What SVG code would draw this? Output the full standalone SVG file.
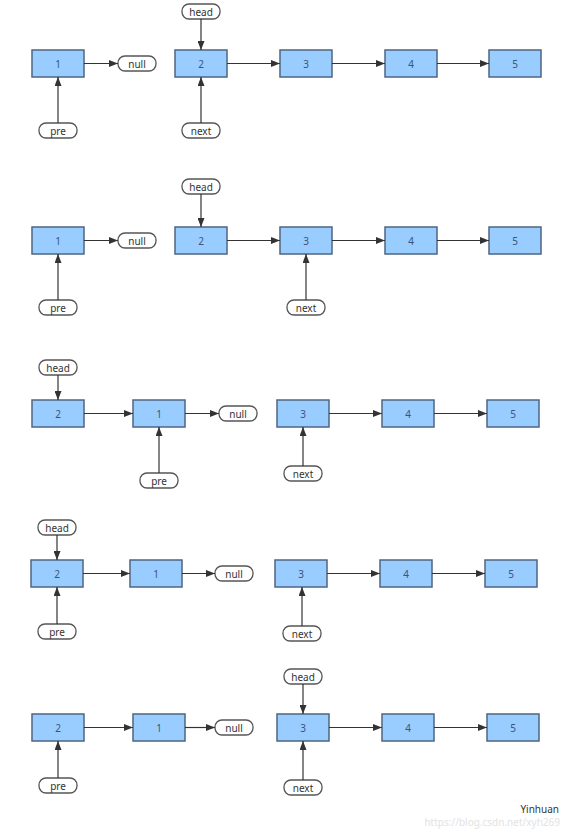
<svg xmlns="http://www.w3.org/2000/svg" width="588" height="836" viewBox="0 0 588 836">
<defs>
<marker id="ah" markerWidth="9" markerHeight="7" refX="9" refY="3.5" orient="auto" markerUnits="userSpaceOnUse">
<path d="M0,0 L9,3.5 L0,7 Z" fill="#333"/>
</marker>
<style>
.n rect{fill:#99ccff;stroke:#4f6680;stroke-width:1.5}
.n text{fill:#3a5577;font-family:"Noto Sans","DejaVu Sans",sans-serif;font-size:10px;text-anchor:middle;dominant-baseline:central}
.p rect{fill:#fff;stroke:#555;stroke-width:1.3}
.p text{fill:#333;font-family:"Noto Sans","DejaVu Sans",sans-serif;font-size:10px;text-anchor:middle;dominant-baseline:central}
.c line{stroke:#333;stroke-width:1.2;marker-end:url(#ah)}
.w{font-family:"Noto Sans","DejaVu Sans",sans-serif}
</style>
</defs>
<rect width="588" height="836" fill="#fff"/>

<!-- Row 1 -->
<g id="r1n1" class="n"><rect x="32" y="50" width="52" height="27"/><text x="58" y="63.5">1</text></g>
<g id="r1n2" class="n"><rect x="175" y="50" width="52" height="27"/><text x="201" y="63.5">2</text></g>
<g id="r1n3" class="n"><rect x="280" y="50" width="52" height="27"/><text x="306" y="63.5">3</text></g>
<g id="r1n4" class="n"><rect x="385" y="50" width="52" height="27"/><text x="411" y="63.5">4</text></g>
<g id="r1n5" class="n"><rect x="489" y="50" width="52" height="27"/><text x="515" y="63.5">5</text></g>
<g id="r1null" class="p"><rect x="118" y="56" width="38" height="15" rx="7"/><text x="137" y="63.5">null</text></g>
<g id="r1head" class="p"><rect x="182" y="4" width="38" height="15" rx="7"/><text x="201" y="11.5">head</text></g>
<g id="r1pre" class="p"><rect x="39" y="123" width="38" height="15" rx="7"/><text x="58" y="130.5">pre</text></g>
<g id="r1next" class="p"><rect x="182" y="123" width="38" height="15" rx="7"/><text x="201" y="130.5">next</text></g>

<!-- Row 2 -->
<g id="r2n1" class="n"><rect x="32" y="227" width="52" height="27"/><text x="58" y="240.5">1</text></g>
<g id="r2n2" class="n"><rect x="175" y="227" width="52" height="27"/><text x="201" y="240.5">2</text></g>
<g id="r2n3" class="n"><rect x="280" y="227" width="52" height="27"/><text x="306" y="240.5">3</text></g>
<g id="r2n4" class="n"><rect x="385" y="227" width="52" height="27"/><text x="411" y="240.5">4</text></g>
<g id="r2n5" class="n"><rect x="489" y="227" width="52" height="27"/><text x="515" y="240.5">5</text></g>
<g id="r2null" class="p"><rect x="118" y="233" width="38" height="15" rx="7"/><text x="137" y="240.5">null</text></g>
<g id="r2head" class="p"><rect x="182" y="179" width="38" height="15" rx="7"/><text x="201" y="186.5">head</text></g>
<g id="r2pre" class="p"><rect x="39" y="300" width="38" height="15" rx="7"/><text x="58" y="307.5">pre</text></g>
<g id="r2next" class="p"><rect x="287" y="300" width="38" height="15" rx="7"/><text x="306" y="307.5">next</text></g>

<!-- Row 3 -->
<g id="r3n2" class="n"><rect x="32" y="400" width="52" height="27"/><text x="58" y="413.5">2</text></g>
<g id="r3n1" class="n"><rect x="133" y="400" width="52" height="27"/><text x="159" y="413.5">1</text></g>
<g id="r3n3" class="n"><rect x="277" y="400" width="52" height="27"/><text x="303" y="413.5">3</text></g>
<g id="r3n4" class="n"><rect x="382" y="400" width="52" height="27"/><text x="408" y="413.5">4</text></g>
<g id="r3n5" class="n"><rect x="487" y="400" width="52" height="27"/><text x="513" y="413.5">5</text></g>
<g id="r3null" class="p"><rect x="219" y="406" width="38" height="15" rx="7"/><text x="238" y="413.5">null</text></g>
<g id="r3head" class="p"><rect x="39" y="360" width="38" height="15" rx="7"/><text x="58" y="367.5">head</text></g>
<g id="r3pre" class="p"><rect x="140" y="473" width="38" height="15" rx="7"/><text x="159" y="480.5">pre</text></g>
<g id="r3next" class="p"><rect x="284" y="466" width="38" height="15" rx="7"/><text x="303" y="473.5">next</text></g>

<!-- Row 4 -->
<g id="r4n2" class="n"><rect x="31" y="560" width="52" height="27"/><text x="57" y="573.5">2</text></g>
<g id="r4n1" class="n"><rect x="130" y="560" width="52" height="27"/><text x="156" y="573.5">1</text></g>
<g id="r4n3" class="n"><rect x="275" y="560" width="52" height="27"/><text x="301" y="573.5">3</text></g>
<g id="r4n4" class="n"><rect x="380" y="560" width="52" height="27"/><text x="406" y="573.5">4</text></g>
<g id="r4n5" class="n"><rect x="485" y="560" width="52" height="27"/><text x="511" y="573.5">5</text></g>
<g id="r4null" class="p"><rect x="215" y="566" width="38" height="15" rx="7"/><text x="234" y="573.5">null</text></g>
<g id="r4head" class="p"><rect x="38" y="520" width="38" height="15" rx="7"/><text x="57" y="527.5">head</text></g>
<g id="r4pre" class="p"><rect x="38" y="624" width="38" height="15" rx="7"/><text x="57" y="631.5">pre</text></g>
<g id="r4next" class="p"><rect x="283" y="626" width="38" height="15" rx="7"/><text x="302" y="633.5">next</text></g>

<!-- Row 5 -->
<g id="r5n2" class="n"><rect x="32" y="714" width="52" height="27"/><text x="58" y="727.5">2</text></g>
<g id="r5n1" class="n"><rect x="133" y="714" width="52" height="27"/><text x="159" y="727.5">1</text></g>
<g id="r5n3" class="n"><rect x="277" y="714" width="52" height="27"/><text x="303" y="727.5">3</text></g>
<g id="r5n4" class="n"><rect x="382" y="714" width="52" height="27"/><text x="408" y="727.5">4</text></g>
<g id="r5n5" class="n"><rect x="487" y="714" width="52" height="27"/><text x="513" y="727.5">5</text></g>
<g id="r5null" class="p"><rect x="215" y="720" width="38" height="15" rx="7"/><text x="234" y="727.5">null</text></g>
<g id="r5head" class="p"><rect x="284" y="669" width="38" height="15" rx="7"/><text x="303" y="676.5">head</text></g>
<g id="r5pre" class="p"><rect x="39" y="778" width="38" height="15" rx="7"/><text x="58" y="785.5">pre</text></g>
<g id="r5next" class="p"><rect x="284" y="780" width="38" height="15" rx="7"/><text x="303" y="787.5">next</text></g>

<!-- Connectors -->
<g id="connectors" class="c">
<!-- row 1 -->
<line x1="84" y1="63.5" x2="118" y2="63.5"/>
<line x1="227" y1="63.5" x2="280" y2="63.5"/>
<line x1="332" y1="63.5" x2="385" y2="63.5"/>
<line x1="437" y1="63.5" x2="489" y2="63.5"/>
<line x1="201" y1="19" x2="201" y2="50"/>
<line x1="58" y1="123" x2="58" y2="77"/>
<line x1="201" y1="123" x2="201" y2="77"/>
<!-- row 2 -->
<line x1="84" y1="240.5" x2="118" y2="240.5"/>
<line x1="227" y1="240.5" x2="280" y2="240.5"/>
<line x1="332" y1="240.5" x2="385" y2="240.5"/>
<line x1="437" y1="240.5" x2="489" y2="240.5"/>
<line x1="201" y1="194" x2="201" y2="227"/>
<line x1="58" y1="300" x2="58" y2="254"/>
<line x1="306" y1="300" x2="306" y2="254"/>
<!-- row 3 -->
<line x1="84" y1="413.5" x2="133" y2="413.5"/>
<line x1="185" y1="413.5" x2="219" y2="413.5"/>
<line x1="329" y1="413.5" x2="382" y2="413.5"/>
<line x1="434" y1="413.5" x2="487" y2="413.5"/>
<line x1="58" y1="375" x2="58" y2="400"/>
<line x1="159" y1="473" x2="159" y2="427"/>
<line x1="303" y1="466" x2="303" y2="427"/>
<!-- row 4 -->
<line x1="83" y1="573.5" x2="130" y2="573.5"/>
<line x1="182" y1="573.5" x2="215" y2="573.5"/>
<line x1="327" y1="573.5" x2="380" y2="573.5"/>
<line x1="432" y1="573.5" x2="485" y2="573.5"/>
<line x1="57" y1="535" x2="57" y2="560"/>
<line x1="57" y1="624" x2="57" y2="587"/>
<line x1="302" y1="626" x2="302" y2="587"/>
<!-- row 5 -->
<line x1="84" y1="727.5" x2="133" y2="727.5"/>
<line x1="185" y1="727.5" x2="215" y2="727.5"/>
<line x1="329" y1="727.5" x2="382" y2="727.5"/>
<line x1="434" y1="727.5" x2="487" y2="727.5"/>
<line x1="303" y1="684" x2="303" y2="714"/>
<line x1="58" y1="778" x2="58" y2="741"/>
<line x1="303" y1="780" x2="303" y2="741"/>
</g>

<text class="w" x="559" y="813" font-size="10" fill="#333" text-anchor="end">Yinhuan</text>
<text class="w" x="560" y="826" font-size="10" fill="#e2e2e2" text-anchor="end">https://blog.csdn.net/xyh269</text>
</svg>
